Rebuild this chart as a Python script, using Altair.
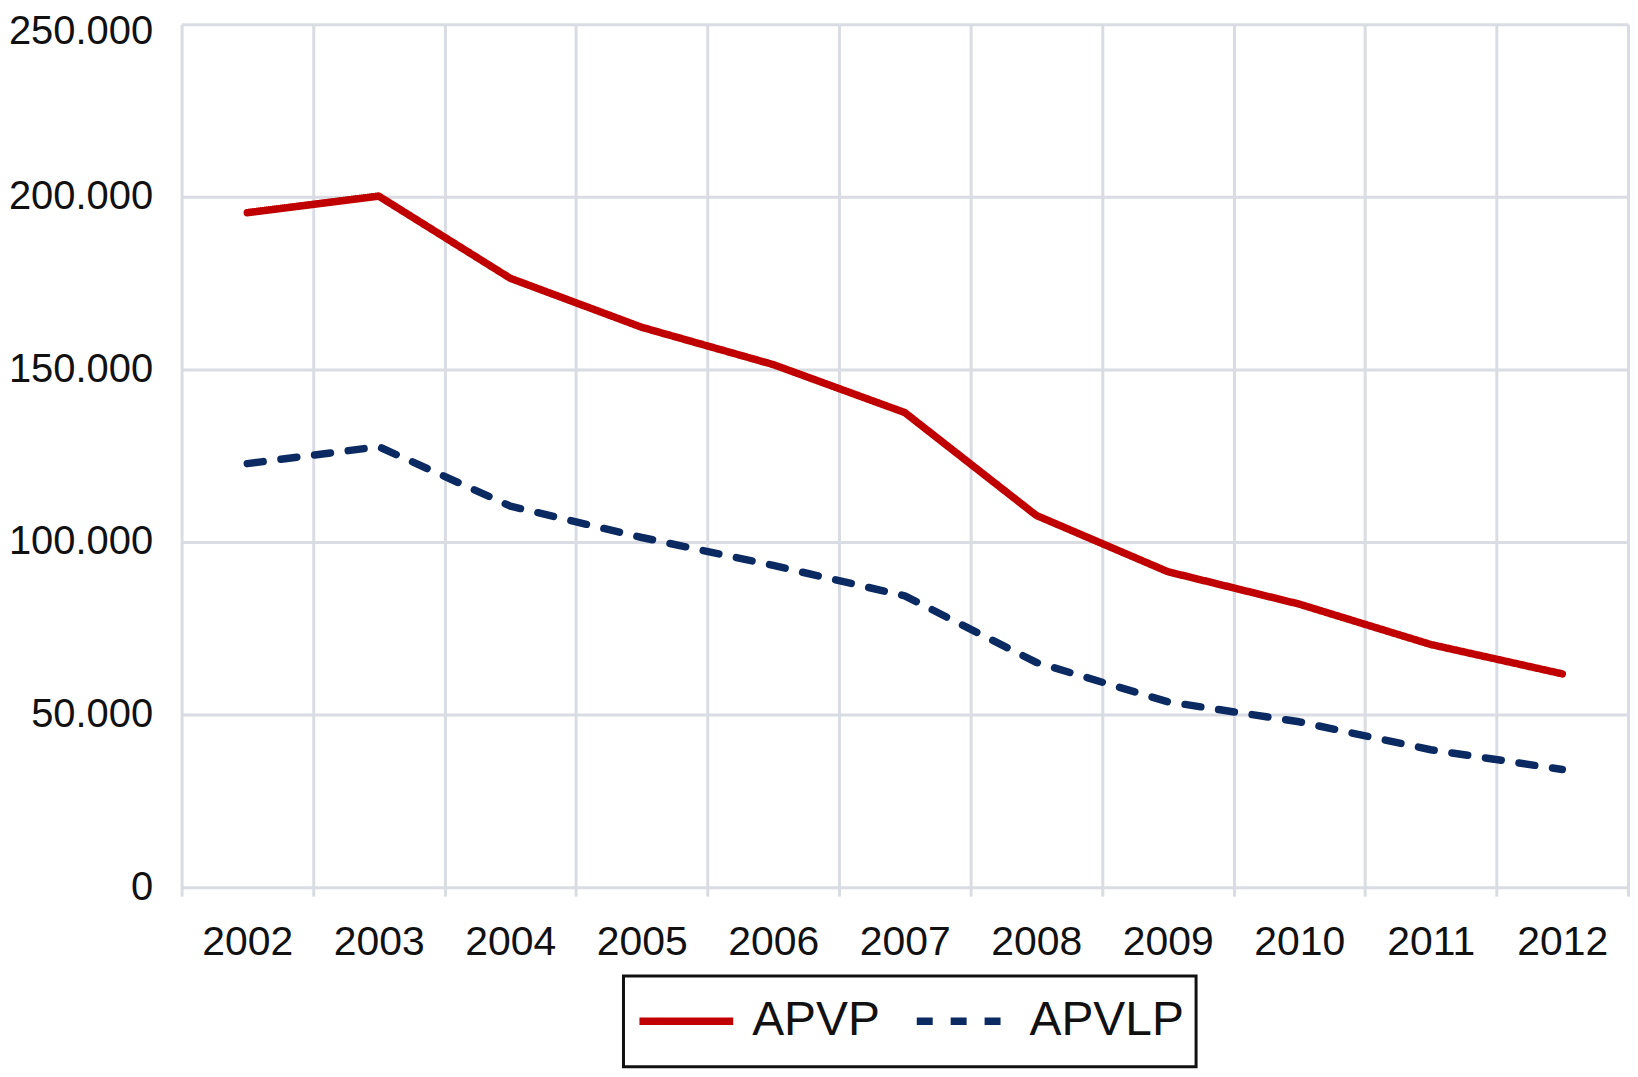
import altair as alt
import pandas as pd

years = ["2002", "2003", "2004", "2005", "2006", "2007", "2008", "2009", "2010", "2011", "2012"]
apvp = [195400, 200200, 176400, 162200, 151400, 137500, 107700, 91400, 82000, 70300, 61800]
apvlp = [122700, 127600, 110400, 101300, 93200, 84400, 65100, 53700, 47900, 39800, 34100]
series = ["APVP", "APVLP"]

rows = []
for name, vals in zip(series, [apvp, apvlp]):
    for y, v in zip(years, vals):
        rows.append({"year": y, "value": v, "series": name})
df = pd.DataFrame(rows)

grid_color = "#d9dce3"

chart = alt.Chart(df).mark_line(strokeWidth=7.5, strokeCap="round", strokeJoin="round").encode(
    x=alt.X("year:O", title=None,
            scale=alt.Scale(type="band", paddingInner=0, paddingOuter=0),
            bandPosition=0.5,
            axis=alt.Axis(tickBand="extent", grid=True, gridColor=grid_color, gridWidth=3,
                          domain=False, ticks=True, tickColor=grid_color, tickWidth=3,
                          tickSize=9, labelAngle=0, labelFontSize=41, labelColor="#111111",
                          labelFont="Liberation Sans", labelPadding=27)),
    y=alt.Y("value:Q", title=None,
            scale=alt.Scale(domain=[0, 250000], nice=False),
            axis=alt.Axis(values=[0, 50000, 100000, 150000, 200000, 250000],
                          labelExpr="replace(format(datum.value, ',d'), ',', '.')",
                          labelOffset={"condition": {"test": "datum.value == 250000", "value": 7},
                                       "value": 0},
                          grid=True, gridColor=grid_color, gridWidth=3, domain=False,
                          ticks=False, labelFontSize=40, labelColor="#111111",
                          labelFont="Liberation Sans", labelPadding=29)),
    color=alt.Color("series:N", sort=series,
                    scale=alt.Scale(domain=series, range=["#c00000", "#0b2a62"]),
                    legend=alt.Legend(title=None, orient="none", legendX=443, legendY=954,
                                      direction="horizontal", symbolType="stroke",
                                      symbolSize=8836, symbolStrokeWidth=7.5,
                                      clipHeight=67,
                                      labelFontSize=48, labelFont="Liberation Sans",
                                      labelColor="#111111", labelOffset=15,
                                      columnPadding=32, padding=12,
                                      strokeColor="#111111", fillColor="white")),
    strokeDash=alt.StrokeDash("series:N", sort=series,
                              scale=alt.Scale(domain=series, range=[[1, 0], [16, 18]]),
                              legend=None),
).properties(
    width=1450, height=865,
    autosize=alt.AutoSizeParams(type="none"),
    padding={"left": 174, "top": 15, "right": 2, "bottom": 181},
).configure_view(stroke=None).configure_legend(strokeWidth=3)

chart.save("out.html", embed_options={"renderer": "svg", "actions": False})
